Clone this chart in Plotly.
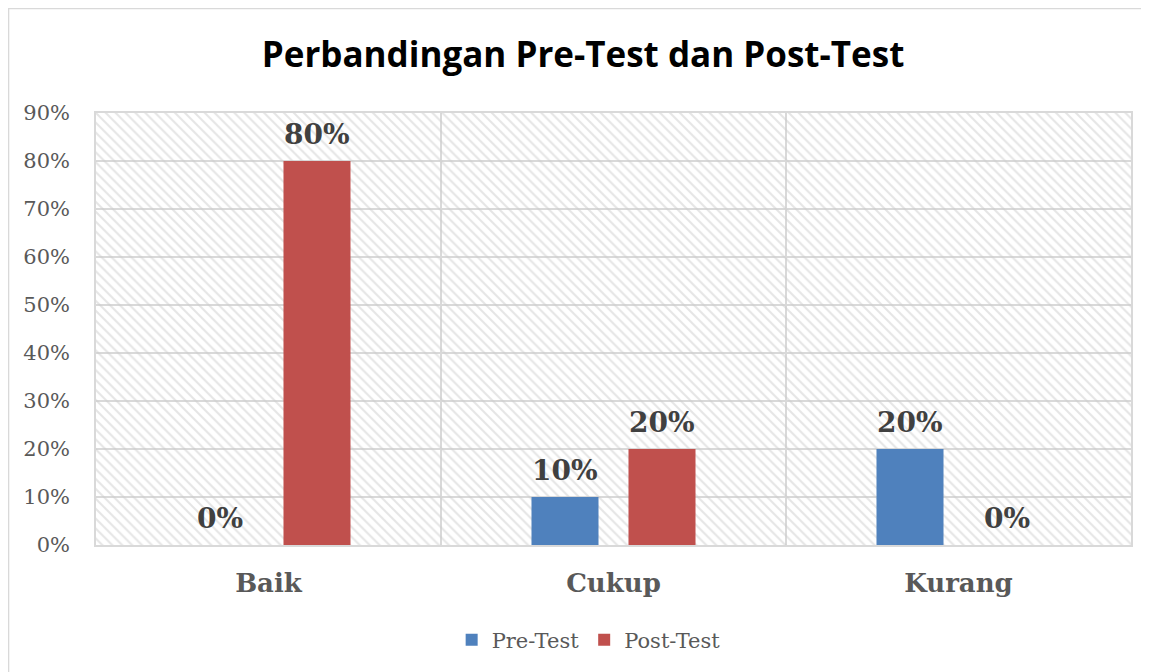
import plotly.graph_objects as go

categories = ["Baik", "Cukup", "Kurang"]
pre_test = [0.0, 0.10, 0.20]
post_test = [0.80, 0.20, 0.0]
series_names = ["Pre-Test", "Post-Test"]
title_text = "Perbandingan Pre-Test dan Post-Test"
Y_MAX = 0.9

BLUE = "#4F81BD"
RED = "#C0504D"
GRID = "#d9d9d9"
LABEL_FONT = "DejaVu Serif"

W, H = 1141, 664
ML, MR, MT, MB = 88, 18, 105, 127
BARGAP, BARGROUPGAP = 0.4377, 0.309

fig = go.Figure()

# hatched plot background on a hidden linear axis spanning all categories
n = len(categories)
fig.add_trace(go.Bar(
    x=[n / 2], y=[Y_MAX], width=[n], xaxis="x", yaxis="y",
    marker=dict(color="rgba(0,0,0,0)", line=dict(width=0),
                pattern=dict(shape="\\", fgcolor="#cccccc", size=7,
                             solidity=0.3, fillmode="overlay")),
    hoverinfo="skip", showlegend=False,
))

series = [(series_names[0], pre_test, BLUE), (series_names[1], post_test, RED)]
for name, vals, col in series:
    fig.add_trace(go.Bar(
        name=name, x=categories, y=vals, xaxis="x2", yaxis="y",
        marker=dict(color=col, line=dict(width=0)),
    ))

# data labels placed above each bar (offset derived from the group layout)
cat_px = (W - ML - MR) / n
slot_px = (1 - BARGAP) / len(series) * cat_px
annotations = []
for i, (name, vals, col) in enumerate(series):
    offset = (i - (len(series) - 1) / 2) * slot_px
    for c, v in zip(categories, vals):
        annotations.append(dict(
            x=c, y=v, xref="x2", yref="y", text=f"<b>{v:.0%}</b>",
            showarrow=False, xanchor="center", yanchor="bottom",
            xshift=offset, yshift=8,
            font=dict(family=LABEL_FONT, size=28, color="#404040"),
        ))

fig.update_layout(
    width=W, height=H,
    margin=dict(l=ML, r=MR, t=MT, b=MB),
    paper_bgcolor="white", plot_bgcolor="white",
    barmode="group", bargap=BARGAP, bargroupgap=BARGROUPGAP,
    title=dict(text="<b>" + title_text + "</b>", x=0.504, xanchor="center",
               y=0.929, yanchor="middle",
               font=dict(family="Open Sans", size=35, color="#000000")),
    xaxis=dict(range=[0, n], showticklabels=False, showgrid=True, dtick=1, tick0=0,
               gridcolor=GRID, gridwidth=1.5, zeroline=False,
               showline=True, mirror=True, linecolor=GRID, linewidth=1.5, ticks=""),
    xaxis2=dict(overlaying="x", anchor="y", side="bottom", type="category",
                range=[-0.5, n - 0.5], showgrid=False, zeroline=False, showline=False,
                ticks="", ticklabelstandoff=20,
                tickfont=dict(family=LABEL_FONT, size=26, color="#595959", weight="bold")),
    yaxis=dict(range=[0, Y_MAX], dtick=0.1, tick0=0, tickformat=".0%",
               showgrid=True, gridcolor=GRID, gridwidth=1.5, zeroline=False,
               showline=True, mirror=True, linecolor=GRID, linewidth=1.5,
               ticks="", ticklabelstandoff=20,
               tickfont=dict(family=LABEL_FONT, size=21, color="#595959")),
    legend=dict(orientation="h", x=0.476, xanchor="center", y=-0.22, yanchor="middle",
                font=dict(family=LABEL_FONT, size=21, color="#595959"),
                itemwidth=30, traceorder="normal"),
    annotations=annotations,
    shapes=[dict(type="rect", xref="paper", yref="paper",
                 x0=-0.0845, x1=1.1, y0=-0.5, y1=1.2419,
                 line=dict(color="#d9d9d9", width=1.5), fillcolor="rgba(0,0,0,0)",
                 layer="below")],
)

fig.write_html("out.html")
